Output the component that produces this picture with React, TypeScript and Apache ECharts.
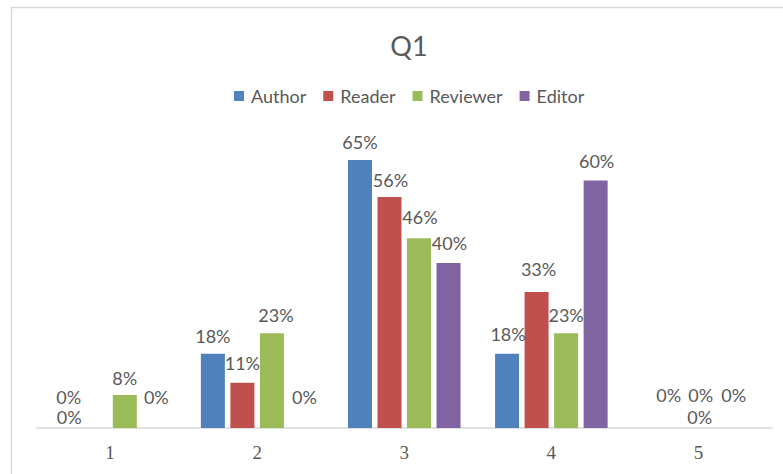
import React, { useEffect, useRef } from "react";
import * as echarts from "echarts";

const categories = ["1", "2", "3", "4", "5"];
const seriesNames = ["Author", "Reader", "Reviewer", "Editor"];
const authorValues = [0, 18, 65, 18, 0];
const readerValues = [0, 11, 56, 33, 0];
const reviewerValues = [8, 23, 46, 23, 0];
const editorValues = [0, 0, 40, 60, 0];
const seriesColors = ["#4F81BD", "#C0504D", "#9BBB59", "#8064A2"];

// Label nudges [dx, dy] per category, mimicking the spreadsheet's label collision layout
const authorLabelShift = [[3, -13], [0, 0], [0, 0], [1, -2], [14.5, -15]];
const readerLabelShift = [[-26, 7], [0, -2], [1, 1], [2, -5], [17, -15]];
const reviewerLabelShift = [[0, 1], [4, 0], [1, -3], [0, 0], [20.5, -15]];
const editorLabelShift = [[2, -13], [3, -13], [1, -2], [1, -2], [-43, 7]];

const FONT = "Lato";
const TEXT_COLOR = "#595959";

function makeSeries(name: string, values: number[], color: string, shifts: number[][]) {
  return {
    name,
    type: "bar",
    barWidth: 24,
    barGap: "23%",
    itemStyle: { color },
    label: {
      show: true,
      position: "top",
      distance: 8,
      formatter: "{c}%",
      color: TEXT_COLOR,
      fontFamily: FONT,
      fontSize: 18,
      lineHeight: 20,
    },
    data: values.map((v, i) => ({ value: v, label: { offset: shifts[i] } })),
  };
}

export default function App() {
  const ref = useRef<HTMLDivElement>(null);
  useEffect(() => {
    if (!ref.current) return;
    const chart = echarts.init(ref.current, null, { renderer: "svg" });
    chart.setOption({
      animation: false,
      backgroundColor: "#ffffff",
      title: {
        text: "Q1",
        left: 404,
        top: 27,
        textAlign: "center",
        textStyle: { fontFamily: FONT, fontSize: 27, fontWeight: "normal", color: TEXT_COLOR },
      },
      legend: {
        data: seriesNames,
        left: 229,
        top: 82,
        itemWidth: 10,
        itemHeight: 10,
        itemGap: 17,
        icon: "rect",
        textStyle: { color: TEXT_COLOR, fontFamily: FONT, fontSize: 18, padding: [0, 0, 0, 2] },
      },
      grid: { left: 36.5, right: 11, top: 139.25, bottom: 46, containLabel: false },
      xAxis: {
        type: "category",
        data: categories,
        axisLine: { lineStyle: { color: "#D9D9D9", width: 1.5 } },
        axisTick: { show: false },
        axisLabel: { color: TEXT_COLOR, fontFamily: "Liberation Serif", fontSize: 19, margin: 15 },
      },
      yAxis: { type: "value", min: 0, max: 70, show: false, splitLine: { show: false } },
      graphic: [
        {
          type: "rect",
          silent: true,
          z: -1,
          shape: { x: 11.5, y: 7.5, width: 900, height: 600 },
          style: { fill: "none", stroke: "#D9D9D9", lineWidth: 1.5 },
        },
      ],
      series: [
        makeSeries(seriesNames[0], authorValues, seriesColors[0], authorLabelShift),
        makeSeries(seriesNames[1], readerValues, seriesColors[1], readerLabelShift),
        makeSeries(seriesNames[2], reviewerValues, seriesColors[2], reviewerLabelShift),
        makeSeries(seriesNames[3], editorValues, seriesColors[3], editorLabelShift),
      ],
    });
    return () => chart.dispose();
  }, []);
  return (
    <div
      ref={ref}
      style={{ position: "fixed", left: 0, top: 0, width: 783, height: 474 }}
    />
  );
}
